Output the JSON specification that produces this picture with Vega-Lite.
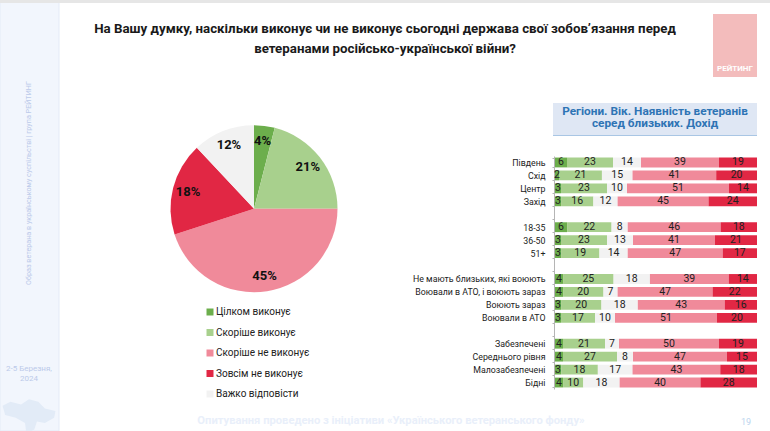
{"$schema":"https://vega.github.io/schema/vega-lite/v6.json","width":770,"height":431,"padding":0,"autosize":{"type":"none"},"background":"#ffffff",
"title":{"text":["На Вашу думку, наскільки виконує чи не виконує сьогодні держава свої зобов’язання перед","ветеранами російсько-української війни?"],"anchor":"middle","frame":"group","orient":"top","offset":-59,"font":"Roboto","fontSize":13.3,"fontWeight":"bold","color":"#1a1a1a","lineHeight":20},
"datasets":{"pie":[{"cat":"Цілком виконує","v":4,"k":1,"l":"4%"},{"cat":"Скоріше виконує","v":21,"k":2,"l":"21%"},{"cat":"Скоріше не виконує","v":45,"k":3,"l":"45%"},{"cat":"Зовсім не виконує","v":18,"k":4,"l":"18%"},{"cat":"Важко відповісти","v":12,"k":5,"l":"12%"}],
"bars":[
{"g":"Південь","cat":"Цілком виконує","v":6,"k":1},{"g":"Південь","cat":"Скоріше виконує","v":23,"k":2},{"g":"Південь","cat":"Важко відповісти","v":14,"k":3},{"g":"Південь","cat":"Скоріше не виконує","v":39,"k":4},{"g":"Південь","cat":"Зовсім не виконує","v":19,"k":5},
{"g":"Схід","cat":"Цілком виконує","v":2,"k":1},{"g":"Схід","cat":"Скоріше виконує","v":21,"k":2},{"g":"Схід","cat":"Важко відповісти","v":15,"k":3},{"g":"Схід","cat":"Скоріше не виконує","v":41,"k":4},{"g":"Схід","cat":"Зовсім не виконує","v":20,"k":5},
{"g":"Центр","cat":"Цілком виконує","v":3,"k":1},{"g":"Центр","cat":"Скоріше виконує","v":23,"k":2},{"g":"Центр","cat":"Важко відповісти","v":10,"k":3},{"g":"Центр","cat":"Скоріше не виконує","v":51,"k":4},{"g":"Центр","cat":"Зовсім не виконує","v":14,"k":5},
{"g":"Захід","cat":"Цілком виконує","v":3,"k":1},{"g":"Захід","cat":"Скоріше виконує","v":16,"k":2},{"g":"Захід","cat":"Важко відповісти","v":12,"k":3},{"g":"Захід","cat":"Скоріше не виконує","v":45,"k":4},{"g":"Захід","cat":"Зовсім не виконує","v":24,"k":5},
{"g":"18-35","cat":"Цілком виконує","v":6,"k":1},{"g":"18-35","cat":"Скоріше виконує","v":22,"k":2},{"g":"18-35","cat":"Важко відповісти","v":8,"k":3},{"g":"18-35","cat":"Скоріше не виконує","v":46,"k":4},{"g":"18-35","cat":"Зовсім не виконує","v":18,"k":5},
{"g":"36-50","cat":"Цілком виконує","v":3,"k":1},{"g":"36-50","cat":"Скоріше виконує","v":23,"k":2},{"g":"36-50","cat":"Важко відповісти","v":13,"k":3},{"g":"36-50","cat":"Скоріше не виконує","v":41,"k":4},{"g":"36-50","cat":"Зовсім не виконує","v":21,"k":5},
{"g":"51+","cat":"Цілком виконує","v":3,"k":1},{"g":"51+","cat":"Скоріше виконує","v":19,"k":2},{"g":"51+","cat":"Важко відповісти","v":14,"k":3},{"g":"51+","cat":"Скоріше не виконує","v":47,"k":4},{"g":"51+","cat":"Зовсім не виконує","v":17,"k":5},
{"g":"Не мають близьких, які воюють","cat":"Цілком виконує","v":4,"k":1},{"g":"Не мають близьких, які воюють","cat":"Скоріше виконує","v":25,"k":2},{"g":"Не мають близьких, які воюють","cat":"Важко відповісти","v":18,"k":3},{"g":"Не мають близьких, які воюють","cat":"Скоріше не виконує","v":39,"k":4},{"g":"Не мають близьких, які воюють","cat":"Зовсім не виконує","v":14,"k":5},
{"g":"Воювали в АТО, і воюють зараз","cat":"Цілком виконує","v":4,"k":1},{"g":"Воювали в АТО, і воюють зараз","cat":"Скоріше виконує","v":20,"k":2},{"g":"Воювали в АТО, і воюють зараз","cat":"Важко відповісти","v":7,"k":3},{"g":"Воювали в АТО, і воюють зараз","cat":"Скоріше не виконує","v":47,"k":4},{"g":"Воювали в АТО, і воюють зараз","cat":"Зовсім не виконує","v":22,"k":5},
{"g":"Воюють зараз","cat":"Цілком виконує","v":3,"k":1},{"g":"Воюють зараз","cat":"Скоріше виконує","v":20,"k":2},{"g":"Воюють зараз","cat":"Важко відповісти","v":18,"k":3},{"g":"Воюють зараз","cat":"Скоріше не виконує","v":43,"k":4},{"g":"Воюють зараз","cat":"Зовсім не виконує","v":16,"k":5},
{"g":"Воювали в АТО","cat":"Цілком виконує","v":3,"k":1},{"g":"Воювали в АТО","cat":"Скоріше виконує","v":17,"k":2},{"g":"Воювали в АТО","cat":"Важко відповісти","v":10,"k":3},{"g":"Воювали в АТО","cat":"Скоріше не виконує","v":51,"k":4},{"g":"Воювали в АТО","cat":"Зовсім не виконує","v":20,"k":5},
{"g":"Забезпечені","cat":"Цілком виконує","v":4,"k":1},{"g":"Забезпечені","cat":"Скоріше виконує","v":21,"k":2},{"g":"Забезпечені","cat":"Важко відповісти","v":7,"k":3},{"g":"Забезпечені","cat":"Скоріше не виконує","v":50,"k":4},{"g":"Забезпечені","cat":"Зовсім не виконує","v":19,"k":5},
{"g":"Середнього рівня","cat":"Цілком виконує","v":4,"k":1},{"g":"Середнього рівня","cat":"Скоріше виконує","v":27,"k":2},{"g":"Середнього рівня","cat":"Важко відповісти","v":8,"k":3},{"g":"Середнього рівня","cat":"Скоріше не виконує","v":47,"k":4},{"g":"Середнього рівня","cat":"Зовсім не виконує","v":15,"k":5},
{"g":"Малозабезпечені","cat":"Цілком виконує","v":3,"k":1},{"g":"Малозабезпечені","cat":"Скоріше виконує","v":18,"k":2},{"g":"Малозабезпечені","cat":"Важко відповісти","v":17,"k":3},{"g":"Малозабезпечені","cat":"Скоріше не виконує","v":43,"k":4},{"g":"Малозабезпечені","cat":"Зовсім не виконує","v":18,"k":5},
{"g":"Бідні","cat":"Цілком виконує","v":4,"k":1},{"g":"Бідні","cat":"Скоріше виконує","v":10,"k":2},{"g":"Бідні","cat":"Важко відповісти","v":18,"k":3},{"g":"Бідні","cat":"Скоріше не виконує","v":40,"k":4},{"g":"Бідні","cat":"Зовсім не виконує","v":28,"k":5}
]},
"layer":[
{"data":{"values":[{}]},"mark":{"type":"rect","x":0,"x2":59,"y":0,"y2":431,"fill":"#f2f6fd","stroke":"#e4ebf7","strokeWidth":1},"encoding":{}},
{"data":{"values":[{}]},"mark":{"type":"rect","x":0,"x2":770,"y":0,"y2":3,"fill":"#e6e6e6"},"encoding":{}},
{"data":{"values":[{}]},"mark":{"type":"rule","x":0,"x2":59,"y":361.5,"stroke":"#dfe7f5","strokeWidth":1},"encoding":{}},
{"data":{"values":[{}]},"mark":{"type":"point","x":29,"y":415,"filled":true,"size":2800,"opacity":1,"fill":"#e2ebf7","shape":"M-1,-0.35 L-0.7,-0.5 L-0.3,-0.4 L0,-0.6 L0.35,-0.5 L0.6,-0.25 L1,-0.15 L0.95,0.1 L0.6,0.3 L0.3,0.25 L0.2,0.55 L-0.1,0.7 L-0.15,0.3 L-0.5,0.1 L-0.9,0 Z"},"encoding":{}},
{"data":{"values":[{"t":"Образ ветерана в українському суспільстві | група РЕЙТИНГ"}]},"mark":{"type":"text","x":29,"y":183,"angle":270,"align":"center","baseline":"middle","font":"Roboto","fontSize":7.2,"fill":"#bccaea"},"encoding":{"text":{"field":"t"}}},
{"data":{"values":[{"t":["2-5 Березня,","2024"]}]},"mark":{"type":"text","x":29,"y":369,"align":"center","baseline":"middle","font":"Roboto","fontSize":8,"lineHeight":9.5,"fill":"#bccaea"},"encoding":{"text":{"field":"t"}}},
{"data":{"values":[{"t":"Опитування проведено з ініціативи «Українського ветеранського фонду»"}]},"mark":{"type":"text","x":391,"y":421,"align":"center","baseline":"middle","font":"Roboto","fontSize":11.2,"fontWeight":"bold","fill":"#e9effa"},"encoding":{"text":{"field":"t"}}},
{"data":{"values":[{"t":"19"}]},"mark":{"type":"text","x":746,"y":422,"align":"center","baseline":"middle","font":"Roboto","fontSize":9,"fill":"#bcd5ee"},"encoding":{"text":{"field":"t"}}},
{"data":{"values":[{}]},"mark":{"type":"rect","x":713,"x2":757,"y":14,"y2":77,"fill":"#f3bcbc"},"encoding":{}},
{"data":{"values":[{"t":"РЕЙТИНГ"}]},"mark":{"type":"text","x":735,"y":69,"align":"center","baseline":"middle","font":"Roboto","fontSize":8,"fontWeight":"bold","fill":"#ffffff"},"encoding":{"text":{"field":"t"}}},
{"data":{"values":[{}]},"mark":{"type":"rect","x":553,"x2":757,"y":103,"y2":136,"fill":"#a9c6e4"},"encoding":{}},
{"data":{"values":[{}]},"mark":{"type":"rect","x":553,"x2":757,"y":103,"y2":135,"fill":"#dfe7f4"},"encoding":{}},
{"data":{"values":[{"t":["Регіони. Вік. Наявність ветеранів","серед близьких. Дохід"]}]},"mark":{"type":"text","x":655,"y":110.5,"align":"center","baseline":"middle","font":"Roboto","fontSize":11.8,"fontWeight":"bold","lineHeight":12,"fill":"#2e74b5"},"encoding":{"text":{"field":"t"}}},
{"data":{"name":"pie"},"mark":{"type":"arc","outerRadius":83.5,"x":254,"y":208.7},"encoding":{"theta":{"field":"v","type":"quantitative","stack":true},"order":{"field":"k","type":"ordinal"},"color":{"field":"cat","type":"nominal","scale":{"domain":["Цілком виконує","Скоріше виконує","Скоріше не виконує","Зовсім не виконує","Важко відповісти"],"range":["#6cae4c","#a8d08d","#f08a9a","#e12744","#f2f2f2"]},"legend":{"orient":"none","legendX":205,"legendY":307,"title":null,"symbolType":"square","symbolSize":49,"symbolStrokeWidth":0,"labelFont":"Roboto","labelFontSize":10,"labelColor":"#222222","labelOffset":1,"rowPadding":10.5,"labelLimit":200}}}},
{"data":{"name":"pie"},"mark":{"type":"text","radius":68,"x":254,"y":208.7,"font":"Roboto","fontSize":13,"fontWeight":"bold","fill":"#111111"},"encoding":{"theta":{"field":"v","type":"quantitative","stack":true},"order":{"field":"k","type":"ordinal"},"text":{"field":"l","type":"nominal"},"detail":{"field":"cat"}}},
{"data":{"name":"bars"},"mark":{"type":"bar"},"encoding":{"y":{"field":"g","type":"nominal","scale":{"domain":["Південь","Схід","Центр","Захід"," ","18-35","36-50","51+","  ","Не мають близьких, які воюють","Воювали в АТО, і воюють зараз","Воюють зараз","Воювали в АТО","   ","Забезпечені","Середнього рівня","Малозабезпечені","Бідні"],"range":[156,389],"paddingInner":0.24,"paddingOuter":0.12},"axis":{"title":null,"offset":-554,"domainColor":"#b5b5b5","tickColor":"#b5b5b5","tickSize":2,"tickBand":"extent","labelPadding":7,"labelFont":"Roboto","labelFontSize":8.8,"labelColor":"#222222","labelLimit":200}},"x":{"field":"v","type":"quantitative","stack":"normalize","scale":{"domain":[0,1],"range":[555,757]},"axis":null},"order":{"field":"k","type":"quantitative"},"color":{"field":"cat","type":"nominal"}}},
{"data":{"name":"bars"},"mark":{"type":"text","font":"Roboto","fontSize":10.5,"fill":"#222222"},"encoding":{"y":{"field":"g","type":"nominal"},"x":{"field":"v","type":"quantitative","stack":"normalize","bandPosition":0.5},"order":{"field":"k","type":"quantitative"},"detail":{"field":"cat"},"text":{"field":"v","type":"quantitative","format":"d"}}}
]}
